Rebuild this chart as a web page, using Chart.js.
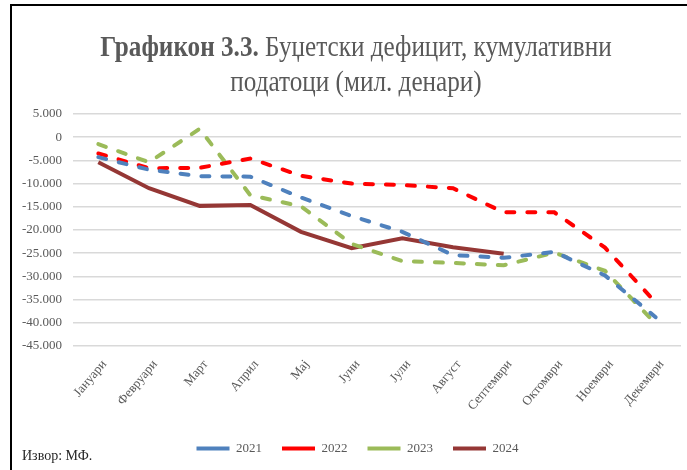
<!DOCTYPE html>
<html>
<head>
<meta charset="utf-8">
<script src="https://cdn.jsdelivr.net/npm/chart.js@4"></script>
<style>
  body { margin: 0; background: #fff; }
  #wrap { position: relative; width: 687px; height: 470px; overflow: hidden; }
  #frame { position: absolute; left: 10px; top: 4px; width: 690px; height: 480px;
           border-left: 2px solid #000; border-top: 2px solid #000; }
  #title { position: absolute; left: 0; top: 28px; width: 712px; text-align: center;
           font-family: "Liberation Serif", serif; font-size: 30px; line-height: 35px;
           color: #595959; transform: scaleX(0.84); transform-origin: 356px 0; }
  #title b { color: #595959; }
  #source { position: absolute; left: 22px; top: 448px; font-family: "Liberation Serif", serif;
            font-size: 14px; color: #262626; }
  canvas { position: absolute; left: 0; top: 0; }
</style>
</head>
<body>
<div id="wrap">
  <canvas id="chart" width="687" height="470"></canvas>
  <div id="frame"></div>
  <div id="title"><b>Графикон 3.3.</b> Буџетски дефицит, кумулативни<br>податоци (мил. денари)</div>
  <div id="source">Извор: МФ.</div>
</div>
<script>
// months on the x axis
const months = ['Јануари', 'Февруари', 'Март', 'Април', 'Мај', 'Јуни',
                'Јули', 'Август', 'Септември', 'Октомври', 'Ноември', 'Декември'];

// cumulative deficit, mil. denars
const d2021 = [-4300, -7000, -8400, -8500, -13000, -17000, -20400, -25400, -26000, -24700, -29800, -38800];
const d2022 = [-3500, -6700, -6600, -4600, -8300, -10000, -10300, -11000, -16200, -16200, -23800, -35600];
const d2023 = [-1500, -5400, 1800, -12500, -14900, -23000, -26700, -27100, -27600, -24900, -28800, -40200];
const d2024 = [-5400, -11000, -14800, -14600, -20400, -23900, -21800, -23700, -25100, null, null, null];

const yMin = -45000;
const yMax = 5000;
const yStep = 5000;

function fmt(v) {
    // 5000 -> 5.000, -45000 -> -45.000
    const s = Math.abs(v).toString().replace(/\B(?=(\d{3})+(?!\d))/g, '.');
    return (v < 0 ? '-' : '') + s;
}

function dashed(label, data, color) {
    return {
        label: label,
        data: data,
        borderColor: color,
        backgroundColor: color,
        borderWidth: 4,
        borderDash: [8, 13],
        borderCapStyle: 'round',
        pointRadius: 0,
        tension: 0,
        spanGaps: false
    };
}

const textColor = '#595959';

// nudge the legend a bit to the right, like the original
const legendShift = {
    id: 'legendShift',
    afterLayout(chart) {
        const lg = chart.legend;
        if (lg) { lg.left += 13; lg.right += 13; }
    }
};

new Chart(document.querySelector('#chart').getContext('2d'), {
    type: 'line',
    data: {
        labels: months,
        datasets: [
            dashed('2021', d2021, '#4F81BD'),
            dashed('2022', d2022, '#FF0000'),
            dashed('2023', d2023, '#9BBB59'),
            {
                label: '2024',
                data: d2024,
                borderColor: '#953735',
                backgroundColor: '#953735',
                borderWidth: 4,
                borderCapStyle: 'butt',
                pointRadius: 0,
                tension: 0
            }
        ]
    },
    plugins: [legendShift],
    options: {
        responsive: false,
        animation: false,
        devicePixelRatio: 1,
        layout: { padding: { top: 114, left: 8, right: 6, bottom: 5 } },
        plugins: {
            title: { display: false },
            tooltip: { enabled: false },
            legend: {
                position: 'bottom',
                labels: {
                    usePointStyle: true,
                    pointStyle: 'line',
                    pointStyleWidth: 33,
                    boxHeight: 13,
                    padding: 20,
                    color: textColor,
                    font: { family: 'Liberation Serif', size: 13 }
                }
            }
        },
        scales: {
            x: {
                offset: true,
                grid: { display: false },
                border: { display: false },
                ticks: {
                    color: textColor,
                    minRotation: 50,
                    maxRotation: 50,
                    labelOffset: 6,
                    font: { family: 'Liberation Serif', size: 13 }
                },
                afterFit: s => { s.height = 76; }
            },
            y: {
                min: yMin,
                max: yMax,
                border: { display: false },
                grid: { color: '#D9D9D9', lineWidth: 1.5, drawTicks: false },
                ticks: {
                    stepSize: yStep,
                    padding: 11,
                    color: textColor,
                    font: { family: 'Liberation Serif', size: 13 },
                    callback: v => fmt(v)
                },
                afterFit: s => { s.width = 65; }
            }
        }
    }
});
</script>
</body>
</html>
